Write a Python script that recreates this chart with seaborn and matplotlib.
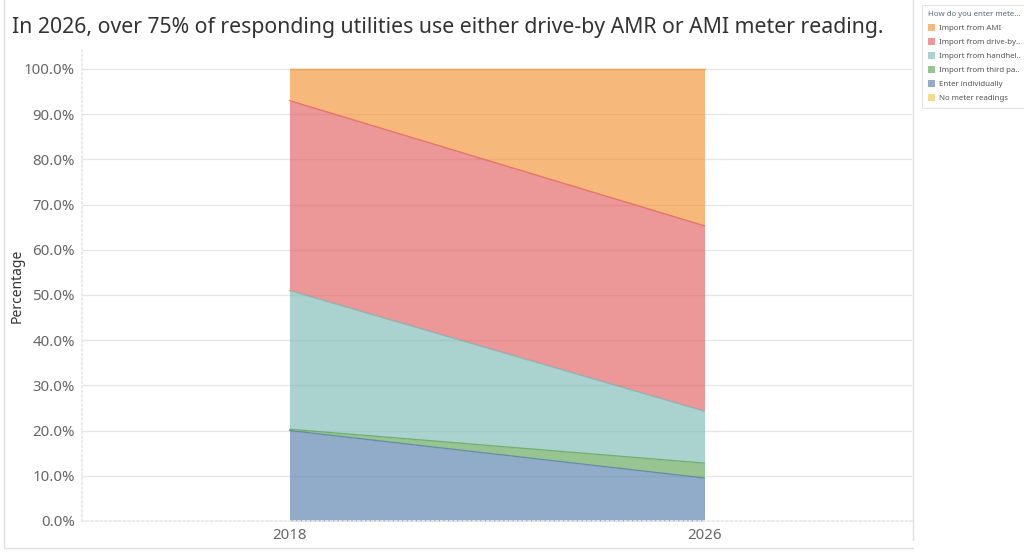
import numpy as np
import pandas as pd
import matplotlib.pyplot as plt
import matplotlib.patches as mpatches
from matplotlib.ticker import PercentFormatter
import seaborn as sns

sns.set_theme(style="whitegrid")
plt.rcParams['font.family'] = ['Noto Sans', 'DejaVu Sans']

years = [2018, 2026]
# stacking order bottom -> top
categories = ['Enter individually', 'Import from third party',
              'Import from handheld', 'Import from drive-by AMR',
              'Import from AMI']
enter_individually = [20.0, 9.5]
third_party = [0.3, 3.3]
handheld = [30.7, 11.5]
drive_by = [42.0, 41.0]
ami = [7.0, 34.7]

legend_labels = ['Import from AMI', 'Import from drive-by..',
                 'Import from handhel..', 'Import from third pa..',
                 'Enter individually', 'No meter readings']
colors = {'Enter individually': '#4E79A7',
          'Import from third party': '#59A14F',
          'Import from handheld': '#76B7B2',
          'Import from drive-by AMR': '#E15759',
          'Import from AMI': '#F28E2B',
          'No meter readings': '#EDC948'}

df = pd.DataFrame({'Enter individually': enter_individually,
                   'Import from third party': third_party,
                   'Import from handheld': handheld,
                   'Import from drive-by AMR': drive_by,
                   'Import from AMI': ami}, index=years)

fig = plt.figure(figsize=(10.24, 5.52), dpi=100)
fig.patch.set_facecolor('white')
ax = fig.add_axes([82 / 1024, 31 / 552, 830 / 1024, 471 / 552])

cum = df.cumsum(axis=1)
base = np.zeros(len(years))
for cat in categories:
    top = cum[cat].values
    ax.fill_between(years, base, top, color=colors[cat], alpha=0.62,
                    linewidth=0)
    sns.lineplot(x=years, y=top, ax=ax, color=colors[cat], linewidth=1,
                 alpha=0.7)
    base = top

ax.set_xlim(2014, 2030)
ax.set_ylim(0, 104.2)
ax.set_yticks(np.arange(0, 101, 10))
ax.yaxis.set_major_formatter(PercentFormatter(decimals=1))
ax.set_xticks(years)
ax.grid(axis='x', visible=False)
ax.grid(axis='y', color='#e6e6e6', linewidth=1)
for s in ['top', 'right']:
    ax.spines[s].set_visible(False)
ax.spines['left'].set_color('#e8e8e8')
ax.spines['left'].set_linestyle(':')
ax.spines['bottom'].set_color('#e8e8e8')
ax.spines['bottom'].set_linestyle(':')
ax.tick_params(axis='both', labelsize=10.8, colors='#666666', length=0, pad=5)
ax.set_ylabel('Percentage', fontsize=10, color='#333333')
ax.yaxis.set_label_coords(-57 / 830, 0.5)
ax.set_xlabel('')
ax.set_facecolor('white')

fig.text(12 / 1024, 1 - 28 / 552,
         'In 2026, over 75% of responding utilities use either drive-by AMR or AMI meter reading.',
         fontsize=15.3, color='#333333', va='center', ha='left')

# panel borders
fig.add_artist(plt.Line2D([913 / 1024, 913 / 1024], [12 / 552, 1], color='#e0e0e0', lw=1))
fig.add_artist(plt.Line2D([4 / 1024, 913 / 1024], [4 / 552, 4 / 552], color='#e0e0e0', lw=1))
fig.add_artist(plt.Line2D([4 / 1024, 4 / 1024], [4 / 552, 1], color='#e0e0e0', lw=1))

handles = [mpatches.Patch(facecolor=colors[c], alpha=0.62, edgecolor='none')
           for c in ['Import from AMI', 'Import from drive-by AMR',
                     'Import from handheld', 'Import from third party',
                     'Enter individually', 'No meter readings']]
leg = fig.legend(handles, legend_labels, title='How do you enter mete...',
                 loc='upper left', bbox_to_anchor=(918 / 1024, 1 - 1 / 552),
                 fontsize=5.7, title_fontsize=5.7, frameon=True,
                 handlelength=0.9, handleheight=0.9, handletextpad=0.4,
                 labelspacing=0.75, borderpad=0.8, alignment='left')
leg.get_frame().set_edgecolor('#dddddd')
leg.get_frame().set_linewidth(0.8)
leg.get_frame().set_boxstyle('square', pad=0)
leg.get_title().set_color('#5a6a7a')
for t in leg.get_texts():
    t.set_color('#555555')

fig.savefig('out.png', dpi=100)
